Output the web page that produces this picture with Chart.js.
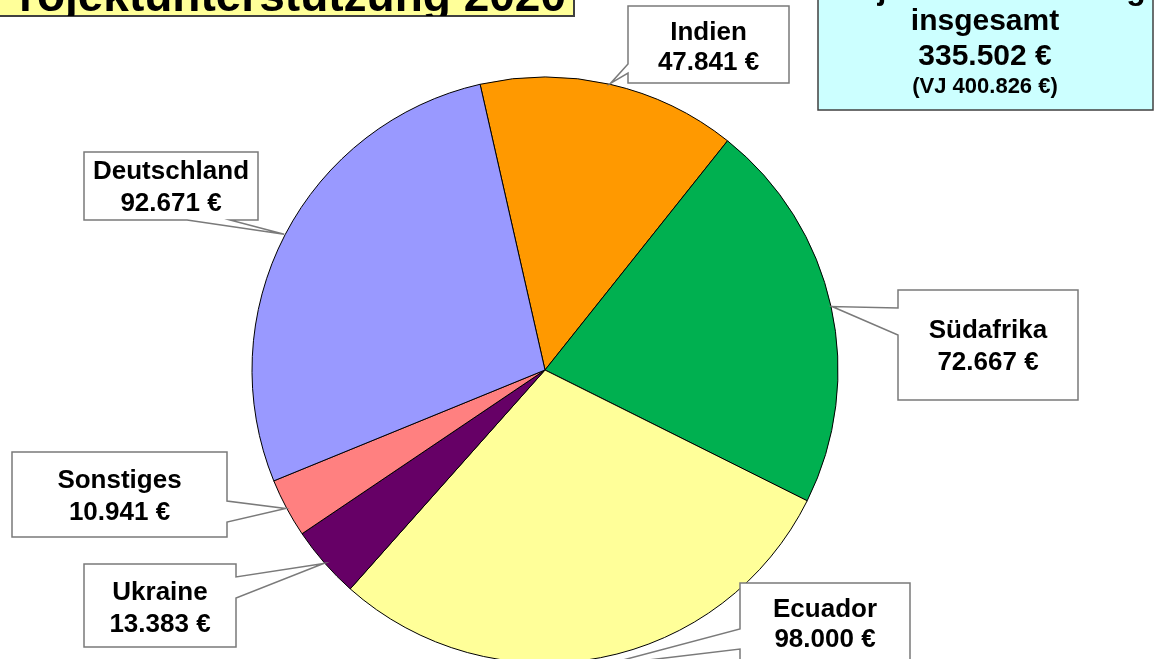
<!DOCTYPE html>
<html>
<head>
<meta charset="utf-8">
<script src="https://cdn.jsdelivr.net/npm/chart.js@4"></script>
<style>
  html, body { margin: 0; padding: 0; background: #fff; overflow: hidden; }
  #wrap { width: 1155px; height: 659px; position: relative; }
</style>
</head>
<body>
<div id="wrap"><canvas id="pie" width="1155" height="659"></canvas></div>
<script>
// Projektunterstützung 2020 - Anteile nach Ländern
const countries = ['Indien', 'Südafrika', 'Ecuador', 'Ukraine', 'Sonstiges', 'Deutschland'];
const amounts = [47841, 72667, 98000, 13383, 10941, 92671];
const sliceColors = ['#FF9900', '#00B050', '#FFFF99', '#660066', '#FF8080', '#9999FF'];

const titleText = 'Projektunterstützung 2020';
const totalLines = ['Projektunterstützung', 'insgesamt'];
const total2020 = 335502;
const totalPrevYear = 400826;

function euro(v) {
    return String(v).replace(/\B(?=(\d{3})+(?!\d))/g, '.') + ' €';
}

// Position der Beschriftungskästen (x0, y0, x1, y1), Seite des Zeigers und seine Basis
const calloutBoxes = [
    { box: [628, 6, 789, 83], side: 'left', base: [64, 73], lines: [40, 70] },
    { box: [898, 290, 1078, 400], side: 'left', base: [308, 335], lines: [338, 370] },
    { box: [740, 583, 910, 690], side: 'left', base: [629, 649], lines: [617, 647], reach: 8 },
    { box: [84, 564, 236, 647], side: 'right', base: [577, 598], lines: [600, 632] },
    { box: [12, 452, 227, 537], side: 'right', base: [501, 522], lines: [488, 520] },
    { box: [84, 152, 258, 220], side: 'bottom', base: [187, 230], lines: [179, 211] },
];

const FONT = '"Liberation Sans", Arial, sans-serif';

const calloutPlugin = {
    id: 'callouts',
    afterDatasetsDraw(chart) {
        const ctx = chart.ctx;
        const meta = chart.getDatasetMeta(0);

        meta.data.forEach((arc, i) => {
            const p = arc.getProps(['x', 'y', 'startAngle', 'endAngle', 'outerRadius'], true);
            const c = calloutBoxes[i];
            const mid = (p.startAngle + p.endAngle) / 2;
            const r = p.outerRadius + (c.reach || 1);
            const tx = p.x + Math.cos(mid) * r;
            const ty = p.y + Math.sin(mid) * r;
            const [x0, y0, x1, y1] = c.box;
            const [a, b] = c.base;

            ctx.save();
            ctx.beginPath();
            ctx.moveTo(x0, y0);
            ctx.lineTo(x1, y0);
            if (c.side === 'right') {
                ctx.lineTo(x1, a); ctx.lineTo(tx, ty); ctx.lineTo(x1, b);
            }
            ctx.lineTo(x1, y1);
            if (c.side === 'bottom') {
                ctx.lineTo(b, y1); ctx.lineTo(tx, ty); ctx.lineTo(a, y1);
            }
            ctx.lineTo(x0, y1);
            if (c.side === 'left') {
                ctx.lineTo(x0, b); ctx.lineTo(tx, ty); ctx.lineTo(x0, a);
            }
            ctx.closePath();
            ctx.fillStyle = '#ffffff';
            ctx.fill();
            ctx.lineWidth = 1.5;
            ctx.strokeStyle = '#7a7a7a';
            ctx.stroke();

            ctx.fillStyle = '#000000';
            ctx.font = 'bold 26px ' + FONT;
            ctx.textAlign = 'center';
            ctx.textBaseline = 'alphabetic';
            const cx = (x0 + x1) / 2;
            ctx.fillText(chart.data.labels[i], cx, c.lines[0]);
            ctx.fillText(euro(chart.data.datasets[0].data[i]), cx, c.lines[1]);
            ctx.restore();
        });

        // Titel oben links
        ctx.save();
        ctx.fillStyle = '#FFFF99';
        ctx.fillRect(-5, -60, 579, 76);
        ctx.lineWidth = 2;
        ctx.strokeStyle = '#404040';
        ctx.strokeRect(-5, -60, 579, 76);
        ctx.beginPath();
        ctx.rect(-5, -60, 579, 76);
        ctx.clip();
        ctx.fillStyle = '#000000';
        ctx.font = 'bold 46px ' + FONT;
        ctx.textAlign = 'right';
        ctx.fillText(titleText, 566, 11);
        ctx.restore();

        // Summe oben rechts
        ctx.save();
        ctx.fillStyle = '#CCFFFF';
        ctx.fillRect(818, -20, 335, 130);
        ctx.lineWidth = 1.5;
        ctx.strokeStyle = '#404040';
        ctx.strokeRect(818, -20, 335, 130);
        ctx.fillStyle = '#000000';
        ctx.textAlign = 'center';
        ctx.font = 'bold 32px ' + FONT;
        ctx.fillText(totalLines[0], 985, -1);
        ctx.font = 'bold 30px ' + FONT;
        ctx.fillText(totalLines[1], 985, 30);
        ctx.fillText(euro(total2020), 985, 65);
        ctx.font = 'bold 22px ' + FONT;
        ctx.fillText('(VJ ' + euro(totalPrevYear) + ')', 985, 93);
        ctx.restore();
    }
};

new Chart(document.getElementById('pie').getContext('2d'), {
    type: 'pie',
    data: {
        labels: countries,
        datasets: [{
            data: amounts,
            backgroundColor: sliceColors,
            borderColor: '#000000',
            borderWidth: 1,
            radius: 293,
        }],
    },
    options: {
        responsive: false,
        animation: false,
        rotation: -12.8,
        layout: {
            padding: { left: 252, right: 317, top: 81, bottom: 0 },
        },
        plugins: {
            legend: { display: false },
            tooltip: { enabled: false },
            title: { display: false },
        },
    },
    plugins: [calloutPlugin],
});
</script>
</body>
</html>
